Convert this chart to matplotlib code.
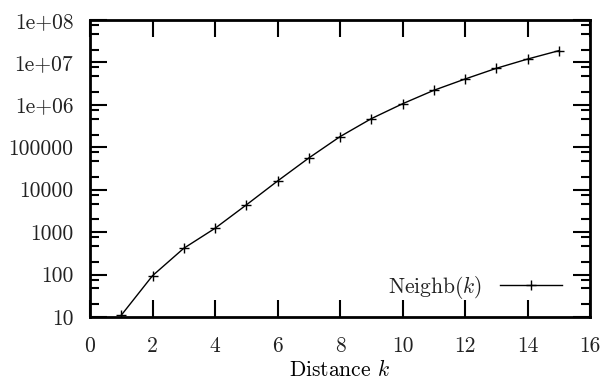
import matplotlib
matplotlib.use("Agg")
import matplotlib.pyplot as plt
from matplotlib.ticker import FixedLocator, FixedFormatter, NullFormatter

plt.rcParams['font.family'] = ['cmr10', 'DejaVu Serif']
plt.rcParams['mathtext.fontset'] = 'cm'
plt.rcParams['axes.unicode_minus'] = False
plt.rcParams['text.color'] = '#222222'
plt.rcParams['xtick.labelcolor'] = '#222222'
plt.rcParams['ytick.labelcolor'] = '#222222'

# data
distance = [1, 2, 3, 4, 5, 6, 7, 8, 9, 10, 11, 12, 13, 14, 15]
neighb = [11, 94, 416, 1230, 4370, 16000, 55800, 178000, 472000,
          1.06e6, 2.2e6, 4.06e6, 7.26e6, 1.2e7, 1.89e7]

xticks = [0, 2, 4, 6, 8, 10, 12, 14, 16]
yticks = [10, 100, 1000, 10000, 100000, 1e6, 1e7, 1e8]
ytick_labels = ['10', '100', '1000', '10000', '100000', '1e+06', '1e+07', '1e+08']
minor_subs = [2, 4.7, 7.6]

fs = 15.5

fig = plt.figure(figsize=(6.01, 3.83), dpi=100)
ax = fig.add_axes([90 / 601, 1 - 317 / 383, 500 / 601, 297 / 383])

ax.plot(distance, neighb, color='black', lw=1.0, marker='+', ms=7, mew=1.0,
        label='Neighb($k$)')

ax.set_yscale('log')
ax.set_xlim(0, 16)
ax.set_ylim(10, 1e8)

ax.xaxis.set_major_locator(FixedLocator(xticks))
ax.yaxis.set_major_locator(FixedLocator(yticks))
ax.yaxis.set_major_formatter(FixedFormatter(ytick_labels))
ax.yaxis.set_minor_locator(FixedLocator([d * s for d in yticks[:-1] for s in minor_subs]))
ax.yaxis.set_minor_formatter(NullFormatter())

for side in ax.spines.values():
    side.set_linewidth(2.0)

ax.tick_params(which='both', direction='in', top=True, right=True,
               labelsize=fs, width=1.5)
ax.tick_params(which='major', length=12)
ax.tick_params(which='minor', length=6.5)
ax.tick_params(axis='y', which='major', pad=12)
ax.tick_params(axis='x', which='major', pad=14)

ax.set_xlabel('Distance $k$', fontsize=fs, labelpad=2.5)

ax.legend(loc='center right', bbox_to_anchor=(0.944, 0.101), frameon=False,
          markerfirst=False, fontsize=fs, handlelength=2.88,
          handletextpad=0.84, borderaxespad=0, borderpad=0)

fig.savefig('out.png', dpi=100)
